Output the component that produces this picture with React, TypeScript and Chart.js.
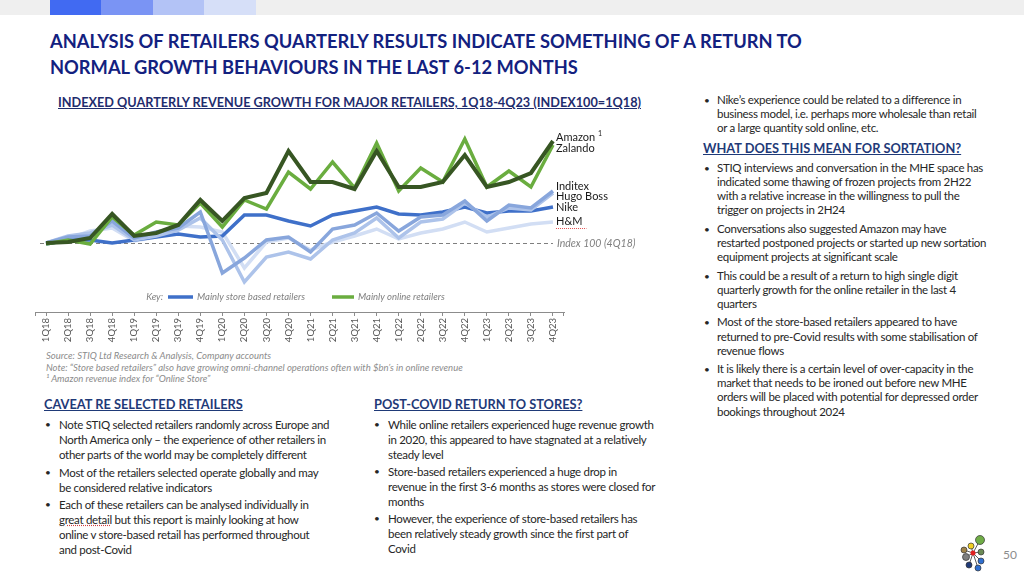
import React, { useEffect, useRef } from "react";
import { Chart, registerables } from "chart.js";

Chart.register(...registerables);

const quarters = [
  "1Q18", "2Q18", "3Q18", "4Q18", "1Q19", "2Q19", "3Q19", "4Q19",
  "1Q20", "2Q20", "3Q20", "4Q20", "1Q21", "2Q21", "3Q21", "4Q21",
  "1Q22", "2Q22", "3Q22", "4Q22", "1Q23", "2Q23", "3Q23", "4Q23",
];

const amazon = [100, 101, 105, 129, 107, 110, 118, 143, 122, 145, 150, 192, 161, 161, 154, 192, 156, 156, 161, 188, 156, 161, 170, 202];
const zalando = [99, 103, 99, 126, 108, 121, 118, 140, 116, 143, 134, 171, 154, 181, 155, 200, 152, 175, 161, 204, 156, 172, 156, 198];
const inditex = [100, 106, 107, 122, 105, 111, 115, 131, 70, 85, 103, 106, 91, 114, 118, 130, 112, 126, 128, 142, 122, 138, 135, 152];
const hugoBoss = [100, 107, 110, 118, 103, 107, 113, 125, 103, 61, 86, 91, 84, 103, 110, 125, 105, 121, 124, 140, 126, 135, 133, 150];
const nike = [99, 103, 103, 100, 103, 106, 109, 106, 107, 128, 128, 122, 117, 128, 132, 136, 129, 128, 131, 136, 130, 132, 132, 136];
const hm = [100, 104, 112, 115, 102, 106, 117, 116, 111, 75, 101, 105, 93, 101, 107, 114, 104, 110, 114, 121, 111, 115, 119, 121];

const indexValue = 100;
const indexLabel = "Index 100 (4Q18)";
const keyLabels = ["Mainly store based retailers", "Mainly online retailers"];

const FONT = "Lato, 'Open Sans', sans-serif";

const seriesDefs = [
  { name: "Amazon", sup: "1", data: amazon, color: "#375623", width: 4, dy: -4 },
  { name: "Zalando", sup: "", data: zalando, color: "#6aad3f", width: 3.5, dy: 3 },
  { name: "Inditex", sup: "", data: inditex, color: "#88a6dc", width: 3.5, dy: -5 },
  { name: "Hugo Boss", sup: "", data: hugoBoss, color: "#adc3ea", width: 3.5, dy: 3 },
  { name: "Nike", sup: "", data: nike, color: "#3f70c9", width: 3.5, dy: 0 },
  { name: "H&M", sup: "", data: hm, color: "#d2def4", width: 3.5, dy: -1 },
];

const overlayPlugin = {
  id: "overlay",
  beforeDatasetsDraw(chart: any) {
    const { ctx, scales } = chart;
    const xs = scales.x;
    const ys = scales.y;
    const y = ys.getPixelForValue(indexValue);
    const x0 = chart.chartArea.left + 5;
    const x1 = xs.getPixelForValue(quarters.length - 1);
    ctx.save();
    ctx.strokeStyle = "#7f7f7f";
    ctx.lineWidth = 1;
    ctx.setLineDash([4, 3]);
    ctx.beginPath();
    ctx.moveTo(x0, y + 0.5);
    ctx.lineTo(x1, y + 0.5);
    ctx.stroke();
    ctx.restore();
  },
  afterDraw(chart: any) {
    const { ctx, scales, chartArea } = chart;
    const xs = scales.x;
    const ys = scales.y;
    const lastX = xs.getPixelForValue(quarters.length - 1) + 3;
    ctx.save();
    ctx.textBaseline = "middle";
    ctx.textAlign = "left";
    ctx.font = `italic 10.5px ${FONT}`;
    ctx.fillStyle = "#7f7f7f";
    ctx.fillText(indexLabel, lastX + 1, ys.getPixelForValue(indexValue) + 0.5);
    seriesDefs.forEach((s) => {
      const y = ys.getPixelForValue(s.data[s.data.length - 1]) + s.dy;
      ctx.font = `11px ${FONT}`;
      ctx.fillStyle = "#1a1a1a";
      ctx.fillText(s.name, lastX, y);
      if (s.sup) {
        const w = ctx.measureText(s.name + " ").width;
        ctx.font = `7px ${FONT}`;
        ctx.fillText(s.sup, lastX + w, y - 3);
      }
      if (s.name === "H&M") {
        const w = ctx.measureText(s.name).width;
        ctx.strokeStyle = "#e05050";
        ctx.lineWidth = 1;
        ctx.setLineDash([1, 1]);
        ctx.beginPath();
        ctx.moveTo(lastX, y + 7.5);
        ctx.lineTo(lastX + w + 4, y + 7.5);
        ctx.stroke();
        ctx.setLineDash([]);
      }
    });
    const ky = chartArea.bottom - 15;
    const kx = chartArea.left;
    ctx.font = `italic 9.5px ${FONT}`;
    ctx.fillStyle = "#7f7f7f";
    ctx.textAlign = "right";
    ctx.fillText("Key:", kx + 128, ky);
    ctx.textAlign = "left";
    ctx.lineWidth = 3.5;
    ctx.strokeStyle = "#3f70c9";
    ctx.beginPath();
    ctx.moveTo(kx + 133, ky);
    ctx.lineTo(kx + 158, ky);
    ctx.stroke();
    ctx.fillText(keyLabels[0], kx + 162, ky);
    ctx.strokeStyle = "#6aad3f";
    ctx.beginPath();
    ctx.moveTo(kx + 297, ky);
    ctx.lineTo(kx + 319, ky);
    ctx.stroke();
    ctx.fillText(keyLabels[1], kx + 323, ky);
    ctx.strokeStyle = "#8c8c8c";
    ctx.lineWidth = 1;
    ctx.beginPath();
    ctx.moveTo(chartArea.left + 0.5, chartArea.bottom);
    ctx.lineTo(chartArea.left + 0.5, chartArea.bottom + 4);
    ctx.moveTo(chartArea.right - 0.5, chartArea.bottom);
    ctx.lineTo(chartArea.right - 0.5, chartArea.bottom + 4);
    ctx.stroke();
    ctx.restore();
  },
};

function RetailChart() {
  const ref = useRef<HTMLCanvasElement | null>(null);
  useEffect(() => {
    if (!ref.current) return;
    const chart = new Chart(ref.current, {
      type: "line",
      data: {
        labels: quarters,
        datasets: seriesDefs.map((s) => ({
          label: s.name,
          data: s.data,
          borderColor: s.color,
          backgroundColor: s.color,
          borderWidth: s.width,
          pointRadius: 0,
          tension: 0,
          fill: false,
          borderJoinStyle: "miter" as const,
        })),
      },
      options: {
        responsive: false,
        animation: false,
        layout: { padding: { left: 5, top: 11, right: 106, bottom: 0 } },
        plugins: { legend: { display: false }, tooltip: { enabled: false }, title: { display: false } },
        scales: {
          x: {
            offset: true,
            grid: { display: true, drawOnChartArea: false, drawTicks: true, tickLength: 4, color: "#8c8c8c", offset: false },
            border: { display: true, color: "#8c8c8c" },
            ticks: {
              autoSkip: false,
              minRotation: 90,
              maxRotation: 90,
              padding: 2,
              color: "#595959",
              font: { family: FONT, size: 9.5 },
            },
            afterFit: (s: any) => {
              s.height = 38;
            },
          },
          y: { display: false, min: 31, max: 212 },
        },
      },
      plugins: [overlayPlugin],
    });
    return () => chart.destroy();
  }, []);
  return <canvas ref={ref} width={640} height={230} style={{ position: "absolute", left: 30, top: 120 }} />;
}

const txt = "#262626";
const navy = "#1f3a78";

function Bullets({ items, left, top, width, lh, gap, size, textOffset }: any) {
  return (
    <div style={{ position: "absolute", left, top, width, fontSize: size, lineHeight: `${lh}px`, color: txt, letterSpacing: "-0.3px" }}>
      {items.map((lines: React.ReactNode[], i: number) => (
        <div key={i} style={{ position: "relative", paddingLeft: textOffset, marginBottom: gap, whiteSpace: "nowrap" }}>
          <span style={{ position: "absolute", left: 1, fontSize: 10 }}>•</span>
          {lines.map((l, j) => (
            <div key={j}>{l}</div>
          ))}
        </div>
      ))}
    </div>
  );
}

const heading = (text: string, left: number, top: number, size = 12.8): React.ReactElement => (
  <div style={{ position: "absolute", left, top, fontSize: size, fontWeight: 700, color: navy, textDecoration: "underline", lineHeight: "16px", whiteSpace: "nowrap" }}>
    {text}
  </div>
);

const spell = (t: string) => (
  <span style={{ textDecoration: "underline dotted #d04040" }}>{t}</span>
);

export default function App() {
  return (
    <div style={{ position: "fixed", left: 0, top: 0, width: 1024, height: 578, background: "#fff", overflow: "hidden", fontFamily: FONT }}>
      <div style={{ position: "absolute", left: 0, top: 0, width: 1024, height: 15, background: "#efefef" }} />
      <div style={{ position: "absolute", left: 50, top: 0, width: 51, height: 15, background: "#416af2" }} />
      <div style={{ position: "absolute", left: 101, top: 0, width: 52, height: 15, background: "#7a94f4" }} />
      <div style={{ position: "absolute", left: 153, top: 0, width: 51, height: 15, background: "#b3c3f6" }} />
      <div style={{ position: "absolute", left: 204, top: 0, width: 52, height: 15, background: "#d6dff8" }} />

      <div style={{ position: "absolute", left: 50, top: 28, fontSize: 18.3, fontWeight: 700, color: "#13217f", lineHeight: "26px", whiteSpace: "nowrap" }}>
        <div>ANALYSIS OF RETAILERS QUARTERLY RESULTS INDICATE SOMETHING OF A RETURN TO</div>
        <div>NORMAL GROWTH BEHAVIOURS IN THE LAST 6-12 MONTHS</div>
      </div>

      <div style={{ position: "absolute", left: 58, top: 95, fontSize: 12.7, fontWeight: 700, color: "#1f2d6e", textDecoration: "underline", lineHeight: "14px", whiteSpace: "nowrap" }}>
        INDEXED QUARTERLY REVENUE GROWTH FOR MAJOR RETAILERS, 1Q18-4Q23 (INDEX100=1Q18)
      </div>

      <RetailChart />

      <div style={{ position: "absolute", left: 46, top: 350, fontSize: 9.5, fontStyle: "italic", color: "#8c8c8c", lineHeight: "11.5px", whiteSpace: "nowrap" }}>
        <div>Source: STIQ Ltd Research &amp; Analysis, Company accounts</div>
        <div>Note: “Store based retailers” also have growing omni-channel operations often with $bn’s in online revenue</div>
        <div>¹ Amazon revenue index for “Online Store”</div>
      </div>

      {heading("CAVEAT RE SELECTED RETAILERS", 44, 396)}
      <Bullets
        left={44}
        top={417}
        width={310}
        lh={15}
        gap={2.5}
        size={11.5}
        textOffset={15}
        items={[
          ["Note STIQ selected retailers randomly across Europe and", "North America only – the experience of other retailers in", "other parts of the world may be completely different"],
          ["Most of the retailers selected operate globally and may", "be considered relative indicators"],
          ["Each of these retailers can be analysed individually in", <>{spell("great detail")} but this report is mainly looking at how</>, "online v store-based retail has performed throughout", "and post-Covid"],
        ]}
      />

      {heading("POST-COVID RETURN TO STORES?", 374, 396)}
      <Bullets
        left={373}
        top={417}
        width={310}
        lh={15}
        gap={2}
        size={11.5}
        textOffset={15}
        items={[
          ["While online retailers experienced huge revenue growth", "in 2020, this appeared to have stagnated at a relatively", "steady level"],
          ["Store-based retailers experienced a huge drop in", "revenue in the first 3-6 months as stores were closed for", "months"],
          ["However, the experience of store-based retailers has", "been relatively steady growth since the first part of", "Covid"],
        ]}
      />

      <Bullets
        left={703}
        top={93}
        width={310}
        lh={14}
        gap={5.5}
        size={11.5}
        textOffset={14}
        items={[["Nike’s experience could be related to a difference in", "business model, i.e. perhaps more wholesale than retail", "or a large quantity sold online, etc."]]}
      />
      {heading("WHAT DOES THIS MEAN FOR SORTATION?", 703, 140)}
      <Bullets
        left={703}
        top={161}
        width={310}
        lh={14.1}
        gap={4.5}
        size={11.5}
        textOffset={14}
        items={[
          ["STIQ interviews and conversation in the MHE space has", "indicated some thawing of frozen projects from 2H22", "with a relative increase in the willingness to pull the", "trigger on projects in 2H24"],
          ["Conversations also suggested Amazon may have", "restarted postponed projects or started up new sortation", "equipment projects at significant scale"],
          ["This could be a result of a return to high single digit", "quarterly growth for the online retailer in the last 4", "quarters"],
          ["Most of the store-based retailers appeared to have", "returned to pre-Covid results with some stabilisation of", "revenue flows"],
          ["It is likely there is a certain level of over-capacity in the", "market that needs to be ironed out before new MHE", "orders will be placed with potential for depressed order", "bookings throughout 2024"],
        ]}
      />

      <svg style={{ position: "absolute", left: 955, top: 530 }} width={35} height={45}>
        {[
          [25, 10], [16, 16], [9, 20], [26, 22], [11, 27], [26, 31], [14, 35], [23, 38],
        ].map((c: any, i) => (
          <line key={i} x1={18} y1={23} x2={c[0]} y2={c[1]} stroke="#333" strokeWidth={0.8} />
        ))}
        {[
          [25, 10, 4.5, "#70ad47"],
          [16, 16, 3, "#f2d024"],
          [9, 20, 3, "#a0834a"],
          [26, 22, 3, "#6b8a55"],
          [11, 27, 3.5, "#7f7f7f"],
          [26, 31, 3, "#2f6fd0"],
          [14, 35, 3, "#1f3a78"],
          [23, 38, 3, "#2f6fd0"],
        ].map((c: any, i) => (
          <circle key={i} cx={c[0]} cy={c[1]} r={c[2]} fill={c[3]} stroke="#333" strokeWidth={0.7} />
        ))}
        <circle cx={18} cy={23} r={2.5} fill="#e02020" />
      </svg>
      <div style={{ position: "absolute", left: 1003, top: 547, fontSize: 12, color: "#8c8c8c" }}>50</div>
    </div>
  );
}
